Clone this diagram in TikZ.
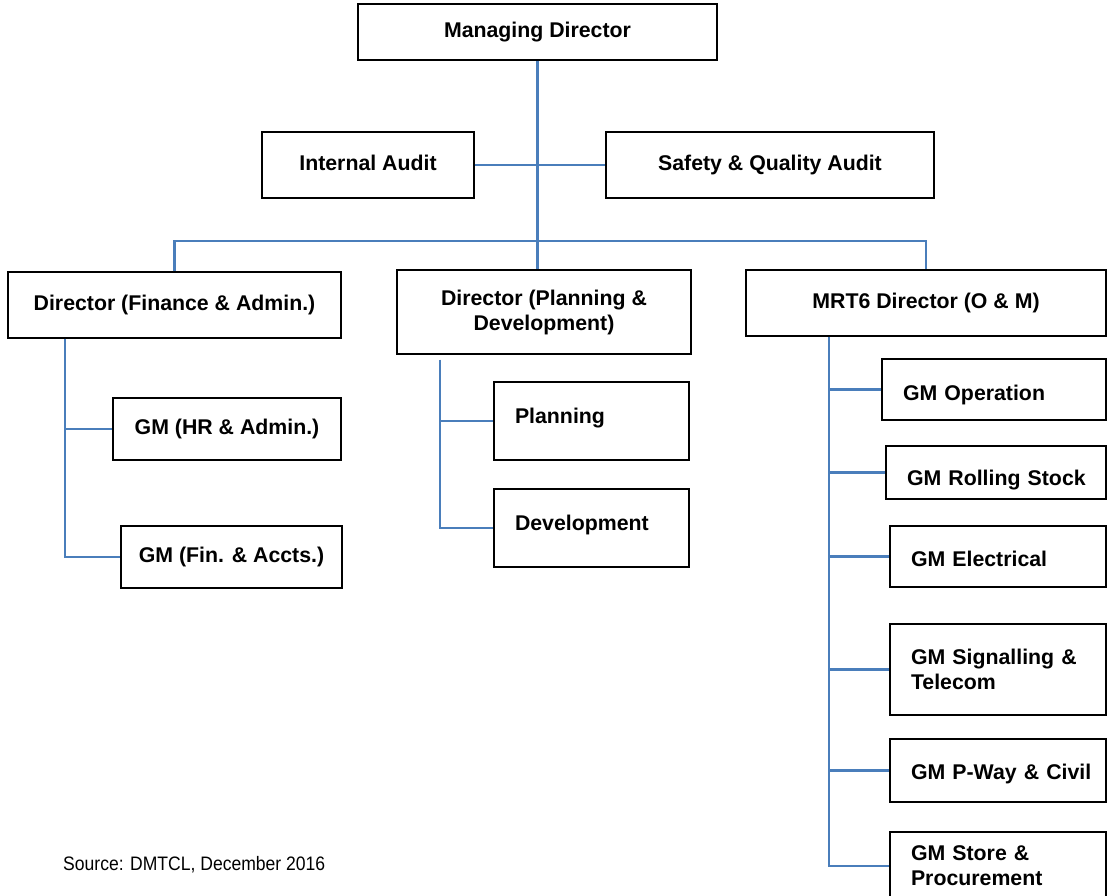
\documentclass[tikz,border=0pt]{standalone}
\usepackage{fontspec}
\setmainfont{Liberation Sans}
\newfontfamily\narrowfont[FakeStretch=0.9]{Liberation Sans}
\usetikzlibrary{calc}
\definecolor{linkblue}{HTML}{4A7EBB}
\begin{document}
\begin{tikzpicture}[x=1pt,y=-1pt,
  box/.style={draw=black, line width=1.2pt, fill=white, inner sep=0pt,
    font=\bfseries\fontsize{21.3}{25}\selectfont},
  oneline/.style={text height=15.3pt, text depth=4.5pt},
  leftbox/.style={align=left, inner xsep=21pt, text width=#1},
  link/.style={draw=linkblue, line width=2.2pt}]

\fill[white] (0,0) rectangle (1108,896);
\useasboundingbox (0,0) rectangle (1108,896);

% top level
\node[box, oneline, minimum width=359pt, minimum height=56pt] (md) at (537.5,32) {Managing Director};
\node[box, oneline, minimum width=212pt, minimum height=66pt] (ia) at (368,165) {Internal Audit};
\node[box, oneline, minimum width=328pt, minimum height=66pt] (sqa) at (770,165) {Safety \& Quality Audit};

% directors
\node[box, oneline, minimum width=333pt, minimum height=66pt] (dfa) at (174.5,305) {Director (Finance \& Admin.)};
\node[box, align=center, minimum width=294pt, minimum height=84pt] (dpd) at (544,312) {Director (Planning \&\\Development)};
\node[box, oneline, minimum width=360pt, minimum height=66pt] (mrt) at (926,303) {MRT6 Director (O \& M)};

% finance & admin
\node[box, oneline, minimum width=228pt, minimum height=62pt] (gmhr) at (227,429) {GM (HR \& Admin.)};
\node[box, oneline, minimum width=221pt, minimum height=62pt] (gmfa) at (231.5,557) {GM (Fin. \& Accts.)};

% planning & development
\node[box, leftbox=153pt, text height=15.3pt, text depth=10pt, minimum height=78pt] (plan) at (591.5,421) {\mbox{Planning}};
\node[box, leftbox=153pt, text height=15.3pt, text depth=10pt, minimum height=78pt] (dev) at (591.5,528) {\mbox{Development}};

% operation & maintenance
\node[box, leftbox=182pt, text height=26.8pt, text depth=4.5pt, minimum height=61pt] (gmop) at (994,389.5) {\mbox{GM Operation}};
\node[box, leftbox=178pt, text height=30.8pt, text depth=4.5pt, minimum height=53pt] (gmrs) at (996,472.5) {\mbox{GM Rolling Stock}};
\node[box, leftbox=174pt, text height=24.8pt, text depth=4.5pt, minimum height=61pt] (gmel) at (998,556.5) {\mbox{GM Electrical}};
\node[box, leftbox=174pt, minimum height=91pt] (gmst) at (998,669.5) {\mbox{GM Signalling \&}\\\mbox{Telecom}};
\node[box, leftbox=174pt, text height=22.8pt, text depth=4.5pt, minimum height=63pt] (gmpw) at (998,770.5) {\mbox{GM P-Way \& Civil}};
\node[box, leftbox=174pt, minimum height=68pt] (gmsp) at (998,866) {\mbox{GM Store \&}\\\mbox{Procurement}};

% connectors
\coordinate (bus) at (537,241);
\coordinate (lsp) at (65,338);
\coordinate (msp) at (440,354);
\coordinate (rsp) at (829,336);

\draw[link] (md.south) -- (md.south |- dpd.north);
\draw[link] (ia.east) -- (sqa.west);
\draw[link] (dfa.north) -- (dfa.north |- bus) -- (mrt.north |- bus) -- (mrt.north);

\draw[link] (lsp |- dfa.south) -- (lsp |- gmfa.west) -- (gmfa.west);
\draw[link] (lsp |- gmhr.west) -- (gmhr.west);

\draw[link] ($(msp |- dpd.south)+(0,5)$) -- (msp |- dev.west) -- (dev.west);
\draw[link] (msp |- plan.west) -- (plan.west);

\draw[link] (rsp |- mrt.south) -- (rsp |- gmsp.west) -- (gmsp.west);
\foreach \n in {gmop,gmrs,gmel,gmst,gmpw}
  \draw[link] (rsp |- \n.west) -- (\n.west);

% source line
\node[anchor=west, inner sep=0pt, font=\narrowfont\fontsize{19.5}{22}\selectfont] (src) at (63,865) {Source: DMTCL, December 2016};
\end{tikzpicture}
\end{document}
